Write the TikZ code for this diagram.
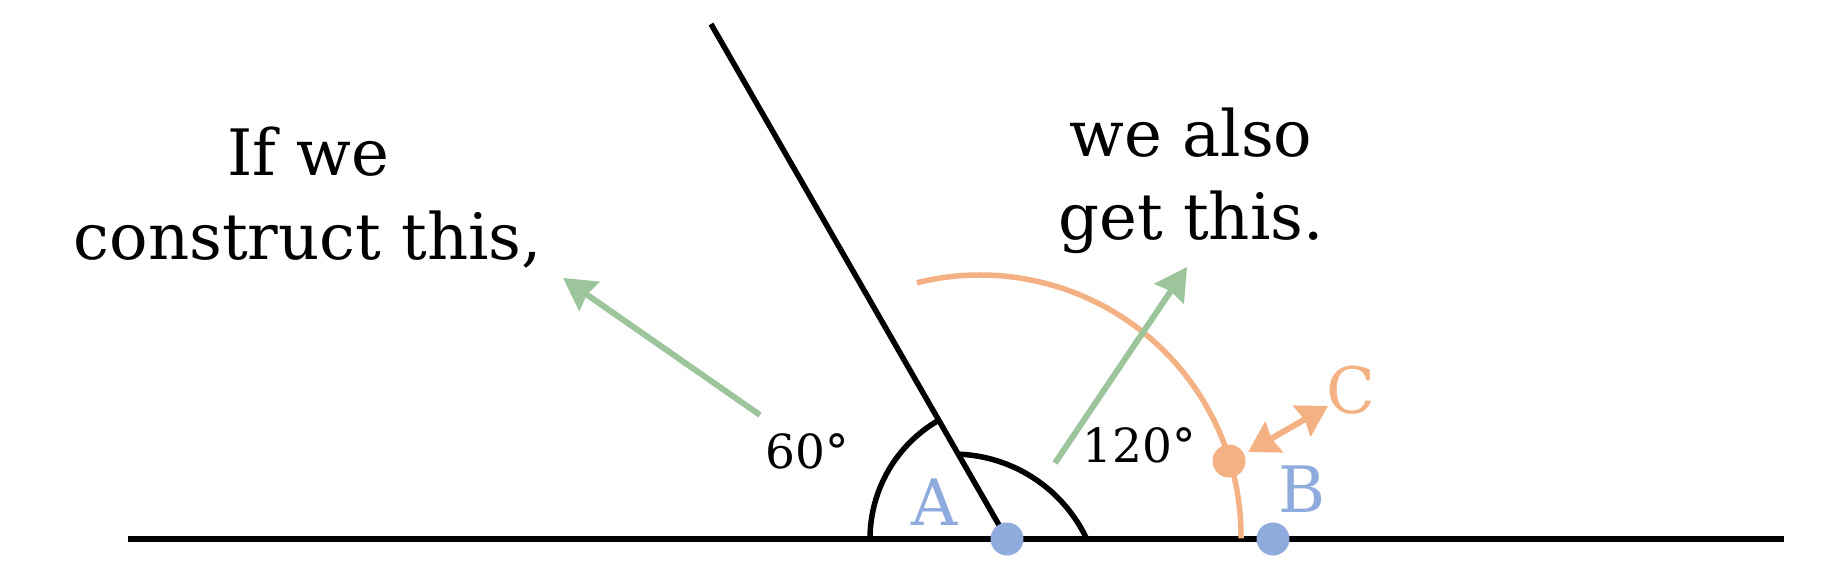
\documentclass[tikz,border=0pt]{standalone}
\usepackage{fontspec}
\setmainfont{DejaVu Serif}
\usetikzlibrary{arrows.meta,calc}
\definecolor{gr}{HTML}{9DC59B}
\definecolor{og}{HTML}{F4B183}
\definecolor{bl}{HTML}{8FAADC}
\tikzset{
  bigtxt/.style={font=\fontsize{64}{80}\selectfont, anchor=base, inner sep=0pt},
  angtxt/.style={font=\fontsize{47}{56}\selectfont, anchor=base, inner sep=0pt},
  dotnode/.style={circle, fill=#1, minimum size=33pt, inner sep=0pt},
  greenarrow/.style={draw=gr, line width=6pt, -{Stealth[length=32pt,width=35pt,inset=3pt]}},
  orangearrow/.style={draw=og, line width=6pt, {Stealth[length=30pt,width=35pt,inset=3pt]}-{Stealth[length=30pt,width=35pt,inset=3pt]}},
  blackline/.style={draw=black, line width=5.5pt},
}
\begin{document}
\begin{tikzpicture}[x=1pt,y=1pt]
\useasboundingbox (0,0) rectangle (1827,560);
\coordinate (L) at (128,21);
\coordinate (R) at (1784,21);
\coordinate (A) at (1007,21);
\coordinate (T) at (711,536);
\coordinate (O) at (980,24);
% base line and ray
\draw[line width=6pt] (L) -- (R);
\draw[blackline] (A) -- (T);
% angle arcs
\draw[blackline] ($(A)+(180:137)$) arc[start angle=180, end angle=120, radius=137];
\draw[blackline] ($(A)+(120:98)$) arc[start angle=88, end angle=25, radius=148];
% orange construction arc
\draw[draw=og, line width=5.5pt] ($(O)+(104:261)$) arc[start angle=104, end angle=-0.5, radius=261];
% green arrows
\coordinate (g1s) at (760,145);
\coordinate (g1e) at (563,282);
\coordinate (g2s) at (1055,97);
\coordinate (g2e) at (1187,293);
\draw[greenarrow] (g1s) -- (g1e);
\draw[greenarrow] (g2s) -- (g2e);
% orange double arrow
\coordinate (o1) at (1248,108);
\coordinate (o2) at (1328,154);
\draw[orangearrow] (o1) -- (o2);
% dots
\node[dotnode=bl] (dA) at (A) {};
\node[dotnode=bl] (dB) at (1273,21) {};
\node[dotnode=og] (dC) at (1229,99) {};
% labels
\node[bigtxt] (t1) at (308,384) {If we};
\node[bigtxt] (t2) at (308,300) {construct this,};
\node[bigtxt] (t3) at (1191,403) {we also};
\node[bigtxt] (t4) at (1191,320) {get this.};
\node[angtxt] (a60) at (807,92) {60°};
\node[angtxt] (a120) at (1139,98) {120°};
\node[bigtxt, text=bl] (lA) at (935,35) {A};
\node[bigtxt, text=bl] (lB) at (1302,48) {B};
\node[bigtxt, text=og] (lC) at (1351,147) {C};
\end{tikzpicture}
\end{document}
